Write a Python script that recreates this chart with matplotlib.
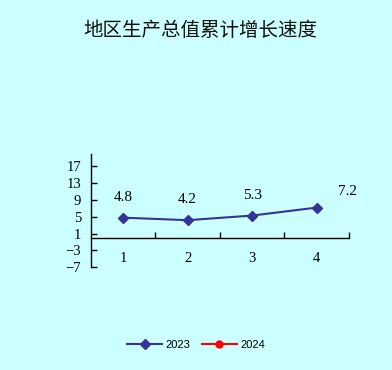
import numpy as np
import matplotlib.pyplot as plt

# 数据
quarters = [1, 2, 3, 4]
tick_labels = ['1', '2', '3', '4']
growth_2023 = [4.8, 4.2, 5.3, 7.2]
growth_2024 = []
y_ticks = [-7, -3, 1, 5, 9, 13, 17]
title = '地区生产总值累计增长速度'

bg = '#ccffff'
blue = '#333399'
num_font = ['Liberation Serif', 'DejaVu Serif']

fig = plt.figure(figsize=(3.92, 3.70), dpi=100, facecolor=bg)
ax = fig.add_axes([0.232, 0.278, 0.658, 0.306], facecolor=bg)

ax.plot(quarters, growth_2023, color=blue, lw=1.5, marker='D', ms=5.5,
        mfc=blue, mec=blue, label='2023')
ax.plot(growth_2024, growth_2024, color='red', lw=1.5, marker='o', ms=5,
        label='2024')

# 数据标签
offsets = [(0, 10), (0, 10), (0, 10), (22, 7)]
for x, y, off in zip(quarters, growth_2023, offsets):
    ax.annotate(f'{y}', (x, y), xytext=off, textcoords='offset points',
                ha='center', va='bottom', fontsize=11, family=num_font)

ax.set_xlim(0.5, 4.5)
ax.set_ylim(-7, 20)

# 坐标轴（先定位，避免重置刻度标签）
ax.spines['top'].set_visible(False)
ax.spines['right'].set_visible(False)
ax.spines['bottom'].set_position(('data', 0))
for s in ('left', 'bottom'):
    ax.spines[s].set_linewidth(1)

ax.set_xticks([1.5, 2.5, 3.5, 4.5], minor=True)
ax.tick_params(axis='x', which='major', length=0, pad=10)
ax.tick_params(axis='x', which='minor', direction='in', length=4, width=1)
ax.tick_params(axis='y', direction='in', length=4, width=1, pad=7)

ax.set_yticks(y_ticks)
ax.set_yticklabels([str(v).replace('-', '\u2212') for v in y_ticks],
                   family=num_font, fontsize=10.5)
ax.set_xticks(quarters)
ax.set_xticklabels(tick_labels, family=num_font, fontsize=10.5)

fig.text(0.51, 0.918, title, ha='center', va='center', fontsize=14,
         family=['Noto Sans CJK SC', 'DejaVu Sans'], color='#111111')

fig.legend(loc='center', bbox_to_anchor=(0.5, 0.068), ncol=2, frameon=False,
           handlelength=3.2, columnspacing=1.0, handletextpad=0.3,
           prop={'family': ['Liberation Sans', 'DejaVu Sans'], 'size': 8})

fig.savefig('out.png', dpi=100, facecolor=bg)
